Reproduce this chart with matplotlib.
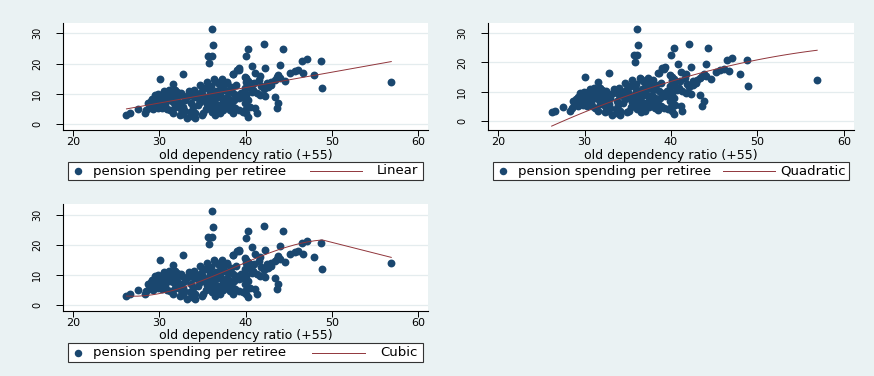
import numpy as np
import matplotlib
matplotlib.use("Agg")
import matplotlib.pyplot as plt
from matplotlib.lines import Line2D
from matplotlib.patches import Rectangle

# ---------------- data ----------------
ratio = [36.1, 36.2, 35.7, 36.1, 35.8, 42.1, 40.3, 44.3, 40.0, 48.8, 46.5, 47.1, 40.8, 44.0, 42.3,
         39.0, 39.3, 38.5, 32.8, 30.1, 56.9, 48.9, 48.0, 45.2, 45.7, 46.1, 46.7, 41.1, 41.7, 41.6,
         40.1, 40.3, 44.6, 43.8, 43.6, 43.4, 43.0, 42.5, 42.6, 42.8, 43.4, 43.6, 43.8, 42.3, 41.7,
         41.3, 41.1, 41.3, 40.3, 40.1, 39.9, 39.7, 40.9, 40.5, 39.9, 39.5, 39.8, 39.3, 38.7, 38.2,
         38.5, 38.2, 39.9, 40.1, 40.5, 39.9, 40.1, 40.3, 39.9, 38.8, 39.2, 37.8, 37.0, 38.6, 39.2,
         36.5, 36.8, 37.4, 37.8, 35.5, 34.7, 34.0, 33.6, 32.6, 33.0, 34.5, 34.7, 34.5, 35.9, 35.7,
         36.1, 36.3, 37.0, 37.2, 37.4, 37.8, 38.2, 38.6, 39.0, 39.4, 39.7, 35.9, 36.3, 36.7, 36.1,
         35.1, 34.9, 33.6, 34.1, 33.2, 34.1, 32.4, 32.8, 32.4, 32.7, 31.6, 31.1, 31.4, 31.8, 29.5,
         29.9, 30.3, 30.7, 29.7, 30.1, 30.5, 28.7, 28.9, 31.1, 31.6, 32.2, 31.8, 32.4, 28.5, 28.3,
         27.5, 26.6, 26.2, 31.2, 31.6, 30.3, 30.7, 29.2, 29.4, 29.0, 29.6, 29.8, 30.0, 30.4, 30.8,
         31.0, 29.3, 28.8, 30.9, 31.4, 31.9, 32.1, 32.5, 33.3, 33.0, 32.9, 33.9, 33.7, 34.3, 35.0,
         35.3, 35.8, 36.0, 36.6, 37.0, 37.6, 38.0, 38.3, 37.3, 37.9, 36.4, 38.9, 36.6, 36.9, 37.5,
         38.0, 35.5, 35.2, 35.4, 34.0, 34.8, 33.4, 32.0, 29.9, 30.6, 33.8, 36.5, 37.4, 38.5, 42.1,
         41.8, 42.9, 44.0, 41.0, 40.7, 40.5]
spending = [31.4, 26.0, 22.6, 22.6, 20.3, 26.4, 24.8, 24.8, 22.4, 20.7, 20.8, 21.4, 19.3, 19.6, 18.4,
            18.0, 18.4, 16.5, 16.5, 14.9, 14.0, 11.8, 16.1, 16.8, 17.5, 17.9, 16.9, 16.8, 15.9, 14.6,
            15.1, 14.3, 14.3, 16.2, 15.4, 14.6, 14.0, 13.5, 12.4, 13.0, 8.8, 5.2, 6.8, 9.3, 9.6,
            10.2, 5.2, 3.5, 2.4, 3.5, 4.6, 4.1, 11.2, 11.8, 11.8, 10.1, 9.0, 8.5, 7.9, 7.4,
            5.7, 4.6, 15.6, 14.0, 13.5, 10.2, 9.6, 7.9, 6.8, 5.2, 4.6, 5.7, 3.5, 16.5, 17.9,
            14.3, 13.5, 12.9, 13.5, 14.0, 12.9, 11.2, 10.2, 9.6, 9.0, 8.5, 7.4, 6.3, 10.2, 9.0,
            7.9, 9.6, 10.2, 9.0, 7.9, 9.0, 7.9, 10.2, 9.6, 9.0, 10.2, 5.7, 6.8, 5.2, 4.1,
            3.5, 3.0, 4.1, 3.5, 1.9, 1.9, 6.8, 5.7, 3.0, 3.3, 13.3, 11.2, 10.7, 11.2, 9.6,
            9.0, 8.8, 9.3, 7.9, 7.4, 6.8, 6.8, 6.3, 7.9, 7.4, 6.8, 5.7, 5.2, 4.6, 3.5,
            4.9, 3.5, 3.0, 4.6, 3.5, 5.2, 6.3, 8.3, 7.2, 7.6, 6.0, 5.4, 8.2, 9.9, 8.0,
            9.6, 5.0, 5.3, 5.0, 8.6, 9.4, 8.0, 10.3, 9.4, 7.8, 4.6, 5.6, 6.8, 9.8, 10.0,
            11.8, 11.5, 12.5, 11.0, 11.6, 11.4, 11.0, 12.2, 14.8, 14.0, 14.8, 13.0, 8.5, 6.3, 6.7,
            6.2, 6.5, 8.0, 4.9, 9.0, 10.6, 10.8, 10.6, 10.0, 11.0, 2.6, 2.9, 4.8, 3.6, 11.6,
            12.7, 12.8, 15.2, 13.6, 10.6, 5.6]

# fitted-line values (x, fitted y)
linear_x = [26.2, 57.0]
linear_y = [5.0, 20.7]
quad_x = [26.36, 30.0, 34.26, 40.2, 49.1, 57.07]
quad_y = [-1.1, 2.7, 7.2, 14.3, 20.4, 24.1]
cubic_x = [26.2, 28.5, 34.7, 40.0, 45.0, 49.0, 57.0]
cubic_y = [2.8, 3.1, 7.8, 14.0, 19.4, 21.8, 15.6]

fit_labels = ["Linear", "Quadratic", "Cubic"]
series_label = "pension spending per retiree"
xlabel = "old dependency ratio (+55)"
xticks = [20, 30, 40, 50, 60]
yticks = [0, 10, 20, 30]

# ---------------- style ----------------
BG = "#EAF2F3"
NAVY = "#1A476F"
MAROON = "#90353B"
GRID = "#E4ECEE"
W, H = 874, 376

plt.rcParams["font.family"] = ["DejaVu Sans"]
fig = plt.figure(figsize=(W / 100, H / 100), dpi=100, facecolor=BG)


def fx(px):
    return px / W


def fy(py):
    return 1 - py / H


# panel boxes in pixels: left, right, top, bottom, ylim
panels = [
    (63, 428, 23, 130, (-1.98, 33.41)),
    (488, 854, 23, 130, (-3.08, 33.45)),
    (63, 428, 204, 311, (-2.15, 33.7)),
]

x_arr = np.array(ratio)
y_arr = np.array(spending)
xs_sorted = np.unique(x_arr)

fits = []
cl = np.polyfit(linear_x, linear_y, 1)
gx = np.linspace(x_arr.min(), x_arr.max(), 100)
fits.append((gx, np.polyval(cl, gx)))
cq = np.polyfit(quad_x, quad_y, 2)
fits.append((gx, np.polyval(cq, gx)))
cc = np.polyfit(cubic_x, cubic_y, 3)
fits.append((xs_sorted, np.polyval(cc, xs_sorted)))

for i, (l, r, t, b, yl) in enumerate(panels):
    ax = fig.add_axes([fx(l), fy(b), fx(r) - fx(l), fy(t) - fy(b)])
    ax.set_facecolor("white")
    ax.scatter(x_arr, y_arr, s=32, color=NAVY, linewidths=0, zorder=3)
    ax.plot(fits[i][0], fits[i][1], color=MAROON, lw=0.7, zorder=4)
    ax.set_xlim(18.84, 61.16)
    ax.set_ylim(*yl)
    ax.set_xticks(xticks)
    ax.set_yticks(yticks)
    ax.set_yticklabels([str(v) for v in yticks], rotation=90, va="center", fontsize=7)
    ax.set_xticklabels([str(v) for v in xticks], fontsize=8)
    ax.tick_params(axis="y", length=5, width=0.7, pad=10)
    ax.tick_params(axis="x", length=4, width=0.7, pad=1)
    for s in ["top", "right"]:
        ax.spines[s].set_visible(False)
    for s in ["left", "bottom"]:
        ax.spines[s].set_linewidth(0.8)
        ax.spines[s].set_color("black")
    ax.grid(axis="y", color=GRID, lw=0.9)
    ax.set_axisbelow(True)
    ax.set_xlabel(xlabel, fontsize=9, va="center")
    ax.xaxis.set_label_coords(0.5, -25.0 / (b - t))

# legends (pixel layout): box l, r, t, b, marker x, text x, line x0, x1, label right
legends = [
    (68, 423, 162, 180, 78, 93, 310, 362, 418),
    (493, 849, 162, 180, 503, 518, 723, 775, 846),
    (68, 423, 343, 362, 78, 93, 312, 365, 418),
]
for i, (l, r, t, b, mx, tx, lx0, lx1, lr) in enumerate(legends):
    fig.add_artist(Rectangle((fx(l), fy(b)), fx(r) - fx(l), fy(t) - fy(b),
                             transform=fig.transFigure, facecolor="white",
                             edgecolor="#333333", lw=0.8))
    cy = fy((t + b) / 2)
    fig.add_artist(Line2D([fx(mx)], [cy], marker="o", ms=5.4, color=NAVY, mew=0,
                          transform=fig.transFigure))
    fig.text(fx(tx), cy, series_label, ha="left", va="center", fontsize=9.5)
    fig.add_artist(Line2D([fx(lx0), fx(lx1)], [cy, cy], color=MAROON, lw=0.7,
                          transform=fig.transFigure))
    fig.text(fx(lr), cy, fit_labels[i], ha="right", va="center", fontsize=9.5)

fig.savefig("out.png", dpi=100, facecolor=BG)
